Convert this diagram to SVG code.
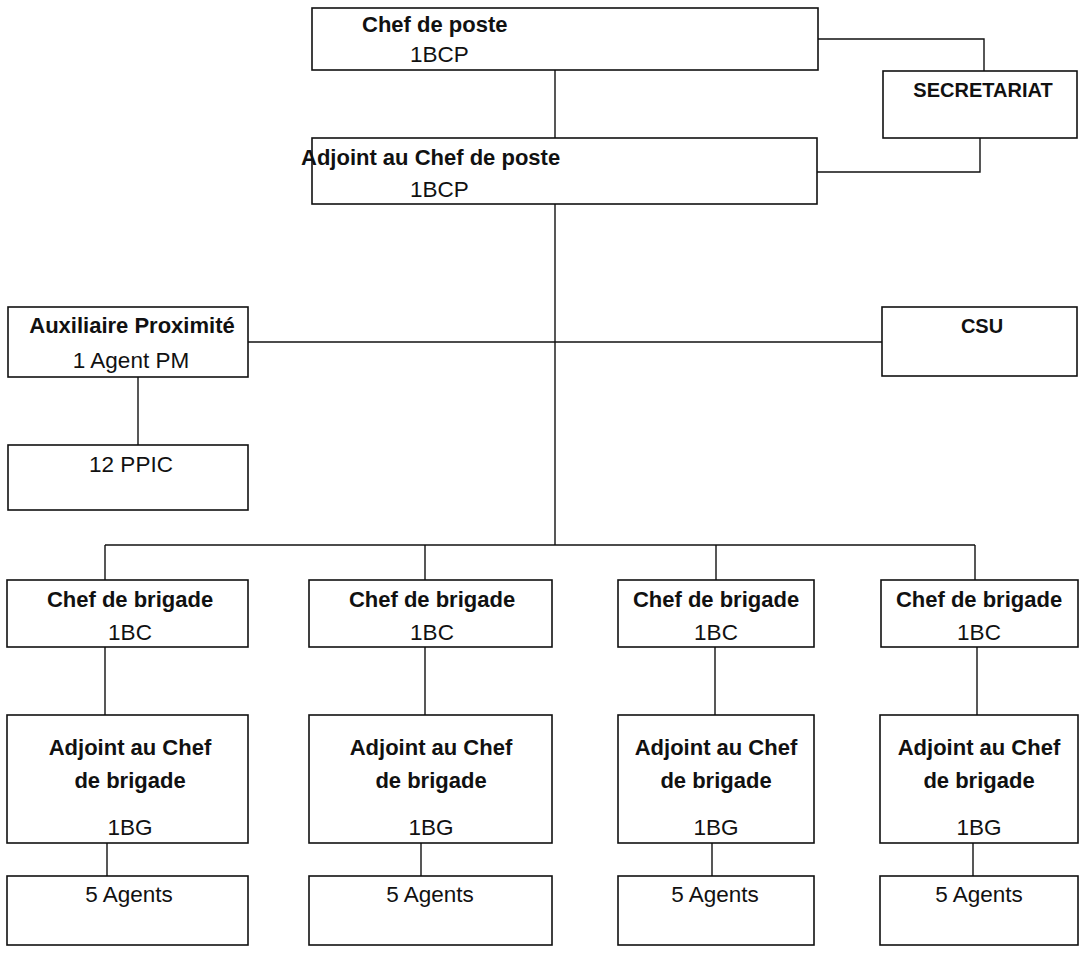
<svg xmlns="http://www.w3.org/2000/svg" width="1080" height="955" viewBox="0 0 1080 955">
<style>
.box{fill:#fff;stroke:#111;stroke-width:1.6}
.ln{fill:none;stroke:#111;stroke-width:1.4}
.b{font-family:"Liberation Sans",Arial,sans-serif;font-weight:bold;font-size:22px;fill:#111}
.r{font-family:"Liberation Sans",Arial,sans-serif;font-size:22.5px;fill:#111}
.s{font-size:20px}
.m{text-anchor:middle}
</style>
<rect width="1080" height="955" fill="#fff"/>
<g id="connectors">
<line class="ln" x1="555" y1="70" x2="555" y2="138"/>
<polyline class="ln" points="818,39 984,39 984,71"/>
<polyline class="ln" points="980,138 980,172 817,172"/>
<line class="ln" x1="555" y1="204" x2="555" y2="545"/>
<line class="ln" x1="248" y1="342" x2="882" y2="342"/>
<line class="ln" x1="138" y1="377" x2="138" y2="445"/>
<line class="ln" x1="105" y1="545" x2="975" y2="545"/>
<line class="ln" x1="105" y1="545" x2="105" y2="580"/>
<line class="ln" x1="425" y1="545" x2="425" y2="580"/>
<line class="ln" x1="716" y1="545" x2="716" y2="580"/>
<line class="ln" x1="975" y1="545" x2="975" y2="580"/>
<line class="ln" x1="105" y1="647" x2="105" y2="715"/>
<line class="ln" x1="425" y1="647" x2="425" y2="715"/>
<line class="ln" x1="715" y1="647" x2="715" y2="715"/>
<line class="ln" x1="977" y1="647" x2="977" y2="715"/>
<line class="ln" x1="107" y1="843" x2="107" y2="876"/>
<line class="ln" x1="421" y1="843" x2="421" y2="876"/>
<line class="ln" x1="712" y1="843" x2="712" y2="876"/>
<line class="ln" x1="973" y1="843" x2="973" y2="876"/>
</g>
<g id="chef-poste">
<rect class="box" x="312" y="8" width="506" height="62"/>
<text class="b" x="362" y="32">Chef de poste</text>
<text class="r" x="410" y="62">1BCP</text>
</g>
<g id="secretariat">
<rect class="box" x="883" y="71" width="194" height="67"/>
<text class="b s m" x="983" y="97">SECRETARIAT</text>
</g>
<g id="adjoint-poste">
<rect class="box" x="312" y="138" width="505" height="66"/>
<text class="b" x="301" y="165">Adjoint au Chef de poste</text>
<text class="r" x="410" y="197">1BCP</text>
</g>
<g id="auxiliaire">
<rect class="box" x="8" y="307" width="240" height="70"/>
<text class="b m" x="132" y="333">Auxiliaire Proximité</text>
<text class="r m" x="131" y="368">1 Agent PM</text>
</g>
<g id="ppic">
<rect class="box" x="8" y="445" width="240" height="65"/>
<text class="r m" x="131" y="472">12 PPIC</text>
</g>
<g id="csu">
<rect class="box" x="882" y="307" width="195" height="69"/>
<text class="b s m" x="982" y="333">CSU</text>
</g>
<g id="chef-brigade-1">
<rect class="box" x="7" y="580" width="241" height="67"/>
<text class="b m" x="130" y="607">Chef de brigade</text>
<text class="r m" x="130" y="640">1BC</text>
</g>
<g id="chef-brigade-2">
<rect class="box" x="309" y="580" width="243" height="67"/>
<text class="b m" x="432" y="607">Chef de brigade</text>
<text class="r m" x="432" y="640">1BC</text>
</g>
<g id="chef-brigade-3">
<rect class="box" x="618" y="580" width="196" height="67"/>
<text class="b m" x="716" y="607">Chef de brigade</text>
<text class="r m" x="716" y="640">1BC</text>
</g>
<g id="chef-brigade-4">
<rect class="box" x="881" y="580" width="197" height="67"/>
<text class="b m" x="979" y="607">Chef de brigade</text>
<text class="r m" x="979" y="640">1BC</text>
</g>
<g id="adjoint-brigade-1">
<rect class="box" x="7" y="715" width="241" height="128"/>
<text class="b m" x="130" y="755">Adjoint au Chef</text>
<text class="b m" x="130" y="788">de brigade</text>
<text class="r m" x="130" y="835">1BG</text>
</g>
<g id="adjoint-brigade-2">
<rect class="box" x="309" y="715" width="243" height="128"/>
<text class="b m" x="431" y="755">Adjoint au Chef</text>
<text class="b m" x="431" y="788">de brigade</text>
<text class="r m" x="431" y="835">1BG</text>
</g>
<g id="adjoint-brigade-3">
<rect class="box" x="618" y="715" width="196" height="128"/>
<text class="b m" x="716" y="755">Adjoint au Chef</text>
<text class="b m" x="716" y="788">de brigade</text>
<text class="r m" x="716" y="835">1BG</text>
</g>
<g id="adjoint-brigade-4">
<rect class="box" x="880" y="715" width="198" height="128"/>
<text class="b m" x="979" y="755">Adjoint au Chef</text>
<text class="b m" x="979" y="788">de brigade</text>
<text class="r m" x="979" y="835">1BG</text>
</g>
<g id="agents-1">
<rect class="box" x="7" y="876" width="241" height="69"/>
<text class="r m" x="129" y="902">5 Agents</text>
</g>
<g id="agents-2">
<rect class="box" x="309" y="876" width="243" height="69"/>
<text class="r m" x="430" y="902">5 Agents</text>
</g>
<g id="agents-3">
<rect class="box" x="618" y="876" width="196" height="69"/>
<text class="r m" x="715" y="902">5 Agents</text>
</g>
<g id="agents-4">
<rect class="box" x="880" y="876" width="198" height="69"/>
<text class="r m" x="979" y="902">5 Agents</text>
</g>
</svg>
